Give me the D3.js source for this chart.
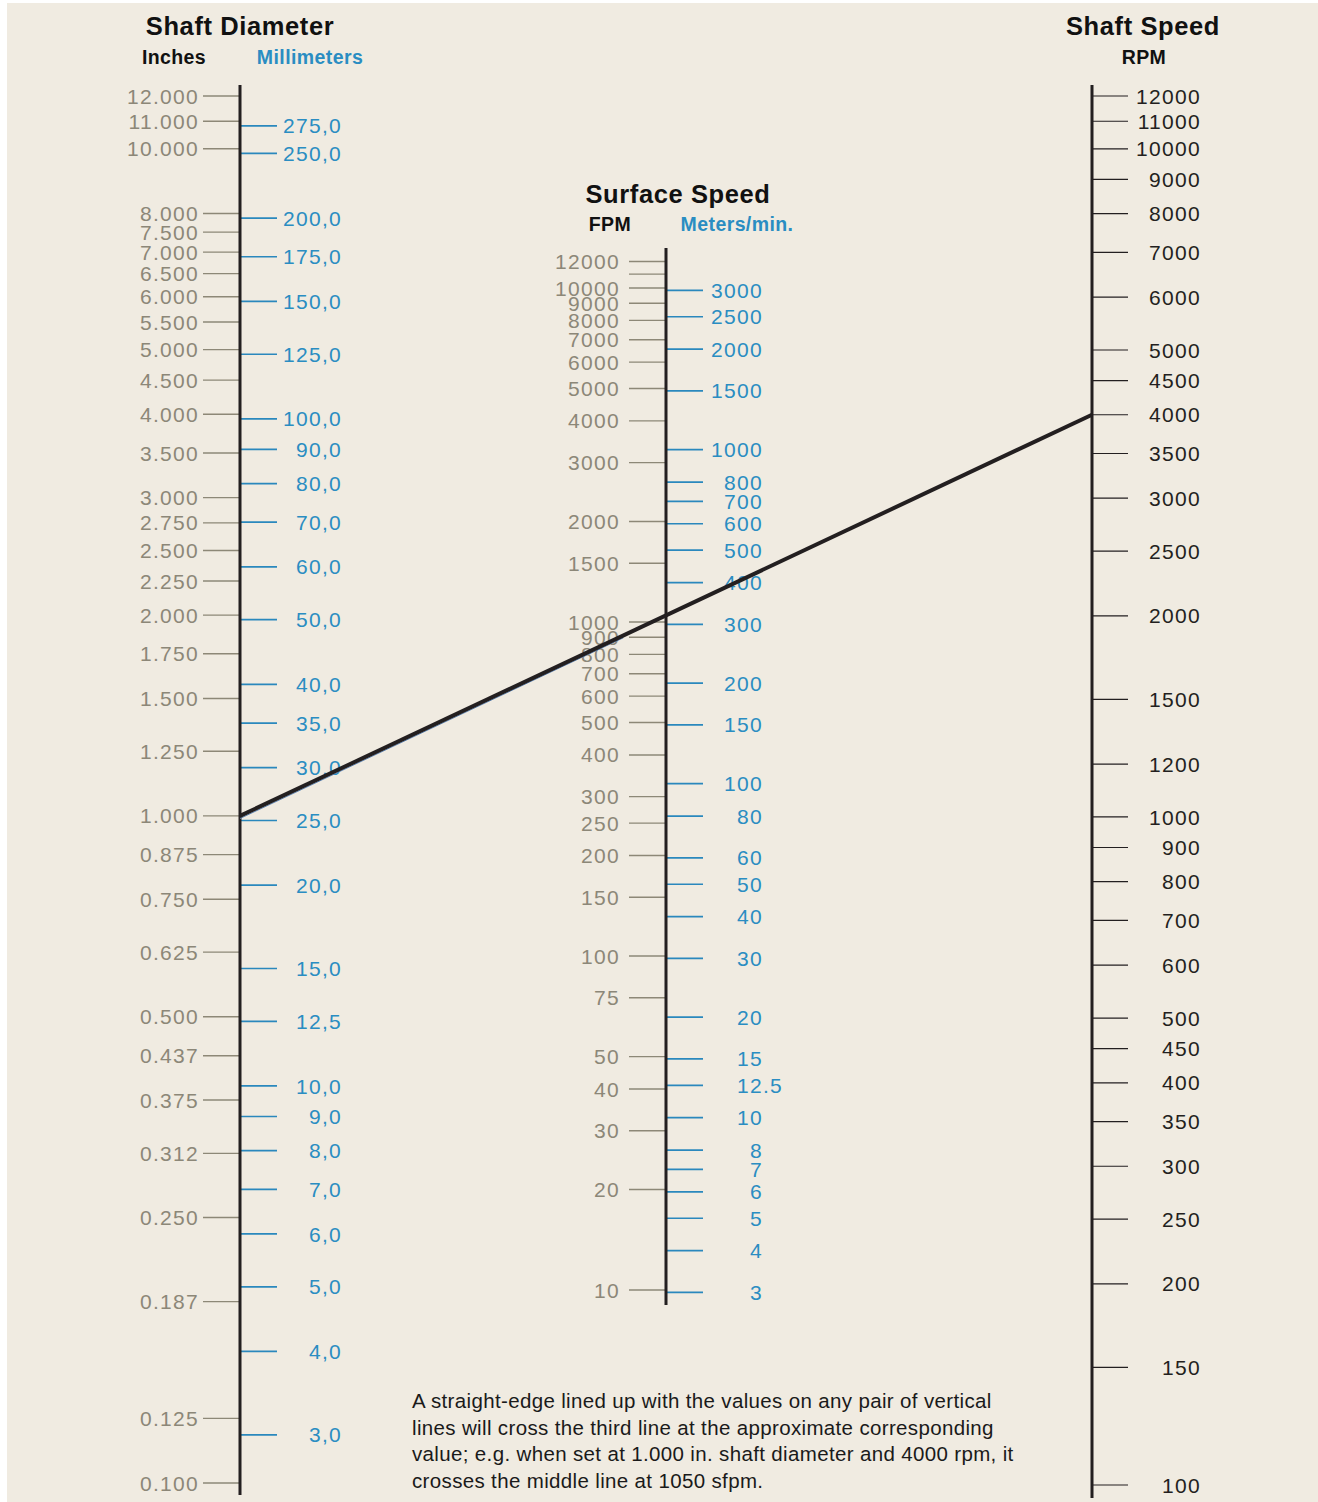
<!DOCTYPE html>
<html>
<head>
<meta charset="utf-8">
<script src="https://cdn.jsdelivr.net/npm/d3@7"></script>
<style>
  html, body { margin: 0; padding: 0; background: #ffffff; }
  svg { display: block; }
  text { font-family: "Liberation Sans", Arial, Helvetica, sans-serif; }
</style>
</head>
<body>
<svg id="chart" width="1318" height="1502"></svg>
<script>
// Shaft diameter, inches (left side of the left line)
const inchTicks = [12, 11, 10, 8, 7.5, 7, 6.5, 6, 5.5, 5, 4.5, 4, 3.5, 3, 2.75, 2.5, 2.25, 2,
  1.75, 1.5, 1.25, 1, 0.875, 0.75, 0.625, 0.5, 0.437, 0.375, 0.312, 0.25, 0.187, 0.125, 0.1];
const inchLabels = ["12.000", "11.000", "10.000", "8.000", "7.500", "7.000", "6.500", "6.000",
  "5.500", "5.000", "4.500", "4.000", "3.500", "3.000", "2.750", "2.500", "2.250", "2.000",
  "1.750", "1.500", "1.250", "1.000", "0.875", "0.750", "0.625", "0.500", "0.437", "0.375",
  "0.312", "0.250", "0.187", "0.125", "0.100"];

// Shaft diameter, millimeters (right side of the left line)
const mmTicks = [275, 250, 200, 175, 150, 125, 100, 90, 80, 70, 60, 50, 40, 35, 30, 25, 20,
  15, 12.5, 10, 9, 8, 7, 6, 5, 4, 3];
const mmLabels = ["275,0", "250,0", "200,0", "175,0", "150,0", "125,0", "100,0", "90,0", "80,0",
  "70,0", "60,0", "50,0", "40,0", "35,0", "30,0", "25,0", "20,0", "15,0", "12,5", "10,0", "9,0",
  "8,0", "7,0", "6,0", "5,0", "4,0", "3,0"];

// Surface speed, feet per minute (left side of the middle line)
const fpmTicks = [12000, 11000, 10000, 9000, 8000, 7000, 6000, 5000, 4000, 3000, 2000, 1500,
  1000, 900, 800, 700, 600, 500, 400, 300, 250, 200, 150, 100, 75, 50, 40, 30, 20, 10];
const fpmLabels = ["12000", "", "10000", "9000", "8000", "7000", "6000", "5000", "4000", "3000",
  "2000", "1500", "1000", "900", "800", "700", "600", "500", "400", "300", "250", "200", "150",
  "100", "75", "50", "40", "30", "20", "10"];

// Surface speed, meters per minute (right side of the middle line)
const mpmTicks = [3000, 2500, 2000, 1500, 1000, 800, 700, 600, 500, 400, 300, 200, 150, 100,
  80, 60, 50, 40, 30, 20, 15, 12.5, 10, 8, 7, 6, 5, 4, 3];
const mpmLabels = ["3000", "2500", "2000", "1500", "1000", "800", "700", "600", "500", "400",
  "300", "200", "150", "100", "80", "60", "50", "40", "30", "20", "15", "12.5", "10", "8", "7",
  "6", "5", "4", "3"];

// Shaft speed, revolutions per minute (right line)
const rpmTicks = [12000, 11000, 10000, 9000, 8000, 7000, 6000, 5000, 4500, 4000, 3500, 3000,
  2500, 2000, 1500, 1200, 1000, 900, 800, 700, 600, 500, 450, 400, 350, 300, 250, 200, 150, 100];
const rpmLabels = rpmTicks.map(String);

// Worked example drawn across the chart: 1.000 in. at 4000 rpm
const exampleDiameter = 1.0;
const exampleRpm = 4000;

const noteLines = [
  "A straight-edge lined up with the values on any pair of vertical",
  "lines will cross the third line at the approximate corresponding",
  "value; e.g. when set at 1.000 in. shaft diameter and 4000 rpm, it",
  "crosses the middle line at 1050 sfpm."
];

// ---------------------------------------------------------------
const C = {
  bg: "#f0ebe1",
  axis: "#231f20",
  grey: "#8c8778",
  greyTick: "#8d8877",
  blue: "#2a8dc2",
  blueTick: "#2a88bd",
  dark: "#231f20"
};

const xL = 240, xM = 666, xR = 1092;

const yIn = d3.scaleLog().domain([0.1, 12]).range([1483, 96]);
const yRpm = d3.scaleLog().domain([100, 12000]).range([1485, 96]);
// Surface speed S = pi * D * N / 12, so the middle scale sits halfway between the outer two
const midY = s => (yIn(1) + yRpm(12 * s / Math.PI)) / 2;
const yFpm = d3.scaleLog().domain([10, 12000]).range([midY(10), midY(12000)]);
const yMm = mm => yIn(mm / 25.4);
const yMpm = m => yFpm(m / 0.3048);

const svg = d3.select("#chart");
svg.append("rect").attr("x", 7).attr("y", 3).attr("width", 1311).attr("height", 1499)
  .attr("fill", C.bg);

const LABEL_SIZE = 21;
const SPACING = 1.3;

function drawScale(opts) {
  const g = svg.append("g");
  const data = opts.ticks.map((v, i) => ({ v, label: opts.labels[i] }));
  g.selectAll("line.tick").data(data).join("line")
    .attr("x1", opts.x0).attr("x2", opts.x1)
    .attr("y1", d => opts.scale(d.v)).attr("y2", d => opts.scale(d.v))
    .attr("stroke", opts.tickColor).attr("stroke-width", opts.tickWidth);
  g.selectAll("text.lbl").data(data.filter(d => d.label)).join("text")
    .attr("class", "lbl")
    .attr("x", opts.labelX)
    .attr("y", d => opts.scale(d.v))
    .attr("dy", "0.36em")
    .attr("text-anchor", "end")
    .attr("font-size", LABEL_SIZE)
    .attr("letter-spacing", SPACING)
    .attr("fill", opts.textColor)
    .text(d => d.label)
    .each(function (d) {
      // decimal labels line up on their whole-number part
      if (opts.decimalAlign && d.label.includes(".")) {
        const whole = d.label.split(".")[0];
        const t = d3.select(this);
        t.text(whole);
        const w = this.getComputedTextLength();
        t.text(d.label).attr("text-anchor", "start").attr("x", opts.labelX - w);
      }
    });
}

// left line
drawScale({ ticks: inchTicks, labels: inchLabels, scale: yIn, x0: 203, x1: xL,
  labelX: 199, tickColor: C.greyTick, tickWidth: 1.4, textColor: C.grey });
drawScale({ ticks: mmTicks, labels: mmLabels, scale: yMm, x0: xL, x1: 277,
  labelX: 342, tickColor: C.blueTick, tickWidth: 1.7, textColor: C.blue });
// middle line
drawScale({ ticks: fpmTicks, labels: fpmLabels, scale: yFpm, x0: 629, x1: xM,
  labelX: 620, tickColor: C.greyTick, tickWidth: 1.4, textColor: C.grey });
drawScale({ ticks: mpmTicks, labels: mpmLabels, scale: yMpm, x0: xM, x1: 703,
  labelX: 763, tickColor: C.blueTick, tickWidth: 1.7, textColor: C.blue, decimalAlign: true });
// right line
drawScale({ ticks: rpmTicks, labels: rpmLabels, scale: yRpm, x0: xR, x1: 1128,
  labelX: 1201, tickColor: C.dark, tickWidth: 1.2, textColor: C.dark });

// vertical lines
[[xL, 85, 1495], [xM, 248, 1305], [xR, 85, 1498]].forEach(([x, a, b]) => {
  svg.append("line").attr("x1", x).attr("x2", x).attr("y1", a).attr("y2", b)
    .attr("stroke", C.axis).attr("stroke-width", 3);
});

// example straight-edge
const p0 = [xL, yIn(exampleDiameter)], p1 = [xR, yRpm(exampleRpm)];
const tMid = 0.45;
svg.append("line")
  .attr("x1", p0[0]).attr("y1", p0[1] + 2.6)
  .attr("x2", p0[0] + (p1[0] - p0[0]) * tMid).attr("y2", p0[1] + (p1[1] - p0[1]) * tMid + 2.4)
  .attr("stroke", "#5d86b8").attr("stroke-width", 1);
svg.append("line")
  .attr("x1", p0[0]).attr("y1", p0[1]).attr("x2", p1[0]).attr("y2", p1[1])
  .attr("stroke", C.axis).attr("stroke-width", 4);

// headings
function heading(txt, x, y, size, color) {
  svg.append("text").attr("x", x).attr("y", y).attr("text-anchor", "middle")
    .attr("font-size", size).attr("font-weight", "bold").attr("fill", color)
    .attr("letter-spacing", size > 22 ? 0.6 : 0.4).text(txt);
}
heading("Shaft Diameter", 240, 35, 25.5, "#111");
heading("Inches", 174, 64, 19.5, "#111");
heading("Millimeters", 310, 64, 19.5, C.blue);
heading("Surface Speed", 678, 203, 25.5, "#111");
heading("FPM", 610, 231, 19.5, "#111");
heading("Meters/min.", 737, 231, 19.5, C.blue);
heading("Shaft Speed", 1143, 35, 25.5, "#111");
heading("RPM", 1144, 64, 19.5, "#111");

// explanatory note
svg.append("g").selectAll("text").data(noteLines).join("text")
  .attr("x", 412).attr("y", (d, i) => 1408 + i * 26.7)
  .attr("font-size", 20.5).attr("letter-spacing", 0.35).attr("fill", "#1a1a1a")
  .text(d => d);
</script>
</body>
</html>
